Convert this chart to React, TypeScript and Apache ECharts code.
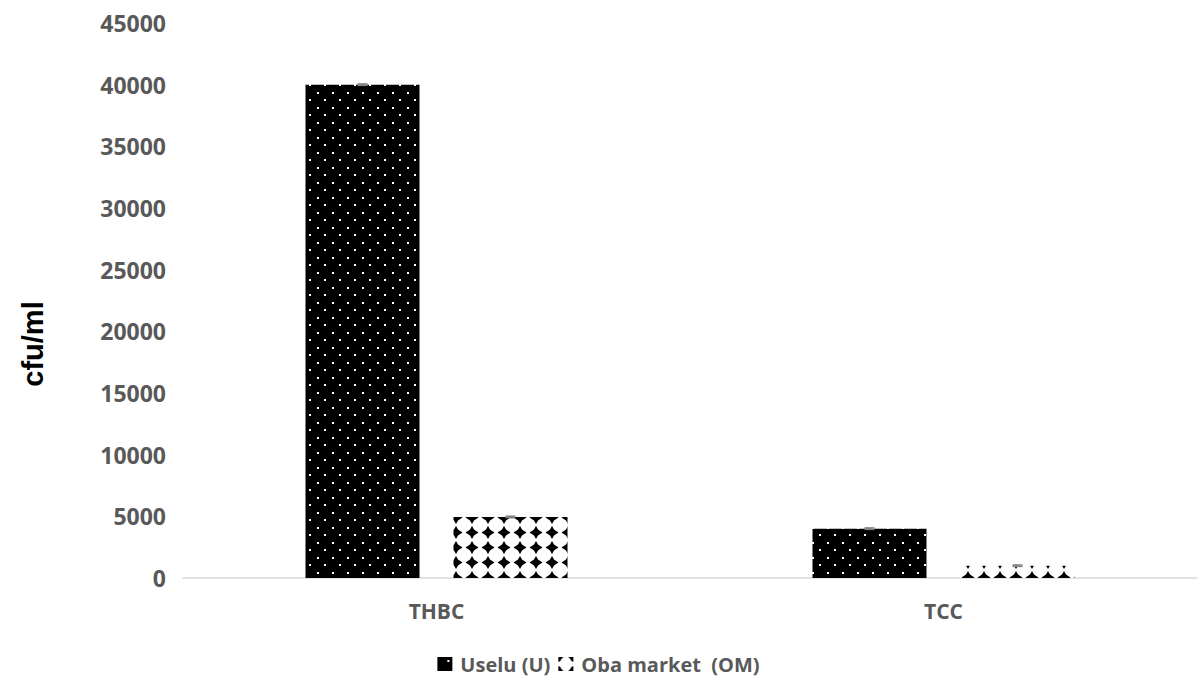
import React, { useEffect, useRef } from "react";
import * as echarts from "echarts";

const categories = ["THBC", "TCC"];
const seriesNames = ["Uselu (U)", "Oba market  (OM)"];
const useluValues = [40000, 4000];
const obaValues = [4950, 1000];
const useluErrors = [60, 60];
const obaErrors = [60, 60];
const yTicks = { min: 0, max: 45000, interval: 5000 };

const BAR_W = 114;
const BAR_GAP = 34;

function makeDotPattern(): HTMLCanvasElement {
  const c = document.createElement("canvas");
  c.width = 15;
  c.height = 15;
  const ctx = c.getContext("2d")!;
  ctx.fillStyle = "#000";
  ctx.fillRect(0, 0, 15, 15);
  ctx.fillStyle = "#fff";
  ctx.fillRect(2, 2, 2, 2);
  ctx.fillRect(9, 9, 2, 2);
  return c;
}

function makeDiamondPattern(): HTMLCanvasElement {
  const c = document.createElement("canvas");
  c.width = 16;
  c.height = 15;
  const ctx = c.getContext("2d")!;
  ctx.fillStyle = "#fff";
  ctx.fillRect(0, 0, 16, 15);
  ctx.fillStyle = "#000";
  ctx.beginPath();
  ctx.moveTo(8, 1);
  ctx.lineTo(10, 4.5);
  ctx.lineTo(14.5, 7.5);
  ctx.lineTo(10, 10.5);
  ctx.lineTo(8, 14);
  ctx.lineTo(6, 10.5);
  ctx.lineTo(1.5, 7.5);
  ctx.lineTo(6, 4.5);
  ctx.closePath();
  ctx.fill();
  return c;
}

function makeUseluIcon(): HTMLCanvasElement {
  const c = document.createElement("canvas");
  c.width = 15;
  c.height = 14;
  const ctx = c.getContext("2d")!;
  ctx.fillStyle = "#000";
  ctx.fillRect(0, 0, 15, 14);
  ctx.fillStyle = "#fff";
  ctx.fillRect(10, 3, 2, 2);
  return c;
}

function makeObaIcon(): HTMLCanvasElement {
  const c = document.createElement("canvas");
  c.width = 15;
  c.height = 14;
  const ctx = c.getContext("2d")!;
  ctx.fillStyle = "#fff";
  ctx.fillRect(0, 0, 15, 14);
  ctx.fillStyle = "#000";
  const corner = (pts: number[][]) => {
    ctx.beginPath();
    ctx.moveTo(pts[0][0], pts[0][1]);
    for (let k = 1; k < pts.length; k++) ctx.lineTo(pts[k][0], pts[k][1]);
    ctx.closePath();
    ctx.fill();
  };
  corner([[0, 0], [5, 0], [3, 2], [2, 4], [0, 5]]);
  corner([[15, 0], [10, 0], [12, 2], [13, 4], [15, 5]]);
  corner([[0, 14], [5, 14], [3, 12], [2, 10], [0, 9]]);
  corner([[15, 14], [10, 14], [12, 12], [13, 10], [15, 9]]);
  return c;
}

export default function App() {
  const ref = useRef<HTMLDivElement>(null);
  useEffect(() => {
    document.body.style.margin = "0";
    if (!ref.current) return;
    const chart = echarts.init(ref.current, undefined, { renderer: "svg" });
    const dotPat = { image: makeDotPattern(), repeat: "repeat" };
    const diaPat = { image: makeDiamondPattern(), repeat: "repeat" };
    const useluIcon = { image: makeUseluIcon(), repeat: "no-repeat" };
    const obaIcon = { image: makeObaIcon(), repeat: "no-repeat" };
    const offset = (BAR_W + BAR_GAP) / 2;

    const errSeries = (vals: number[], errs: number[], dir: number, name: string) => ({
      type: "custom",
      name: name + "-err",
      silent: true,
      z: 10,
      data: vals.map((v, i) => [i, v, errs[i]]),
      renderItem: (params: any, api: any) => {
        const i = api.value(0);
        const v = api.value(1);
        const e = api.value(2);
        const hi = api.coord([i, v + e]);
        const lo = api.coord([i, v - e]);
        const x = hi[0] + dir * offset;
        const cap = 5;
        const style = { stroke: "#7f7f7f", lineWidth: 1.5 };
        return {
          type: "group",
          children: [
            { type: "line", shape: { x1: x, y1: hi[1], x2: x, y2: lo[1] }, style },
            { type: "line", shape: { x1: x - cap, y1: hi[1], x2: x + cap, y2: hi[1] }, style },
            { type: "line", shape: { x1: x - cap, y1: lo[1], x2: x + cap, y2: lo[1] }, style },
          ],
        };
      },
    });

    chart.setOption({
      animation: false,
      backgroundColor: "#fff",
      grid: { left: 183, width: 1017, top: 23, bottom: 100 },
      legend: {
        data: [
          { name: seriesNames[0], itemStyle: { color: useluIcon } },
          { name: seriesNames[1], itemStyle: { color: obaIcon } },
        ],
        left: "center",
        top: 649,
        itemWidth: 15,
        itemHeight: 14,
        itemGap: 8,
        icon: "rect",
        textStyle: {
          fontFamily: "Open Sans",
          fontWeight: "bold",
          fontSize: 20,
          color: "#595959",
          padding: [0, 0, 0, 3],
        },
      },
      graphic: [
        {
          type: "text",
          x: 33,
          y: 344,
          rotation: Math.PI / 2,
          style: {
            text: "cfu/ml",
            fontFamily: "Liberation Sans",
            fontWeight: "bold",
            fontSize: 29,
            fill: "#000",
            textAlign: "center",
            textVerticalAlign: "middle",
          },
        },
      ],
      xAxis: {
        type: "category",
        data: categories,
        axisLine: { lineStyle: { color: "#d9d9d9", width: 1.5 } },
        axisTick: { show: false },
        axisLabel: {
          fontFamily: "Open Sans",
          fontWeight: "bold",
          fontSize: 21,
          color: "#595959",
          margin: 22,
        },
      },
      yAxis: {
        type: "value",
        min: yTicks.min,
        max: yTicks.max,
        interval: yTicks.interval,
        splitLine: { show: false },
        axisLine: { show: false },
        axisTick: { show: false },
        axisLabel: {
          fontFamily: "Open Sans",
          fontWeight: "bold",
          fontSize: 23,
          color: "#595959",
          margin: 17,
          formatter: (v: number) => String(v),
        },
      },
      series: [
        {
          type: "bar",
          name: seriesNames[0],
          data: useluValues,
          barWidth: BAR_W,
          barGap: (BAR_GAP / BAR_W) * 100 + "%",
          itemStyle: { color: dotPat },
        },
        {
          type: "bar",
          name: seriesNames[1],
          data: obaValues,
          barWidth: BAR_W,
          barGap: (BAR_GAP / BAR_W) * 100 + "%",
          itemStyle: { color: diaPat },
        },
        errSeries(useluValues, useluErrors, -1, seriesNames[0]),
        errSeries(obaValues, obaErrors, 1, seriesNames[1]),
      ],
    } as any);
    return () => chart.dispose();
  }, []);
  return <div ref={ref} style={{ width: 1197, height: 678 }} />;
}
